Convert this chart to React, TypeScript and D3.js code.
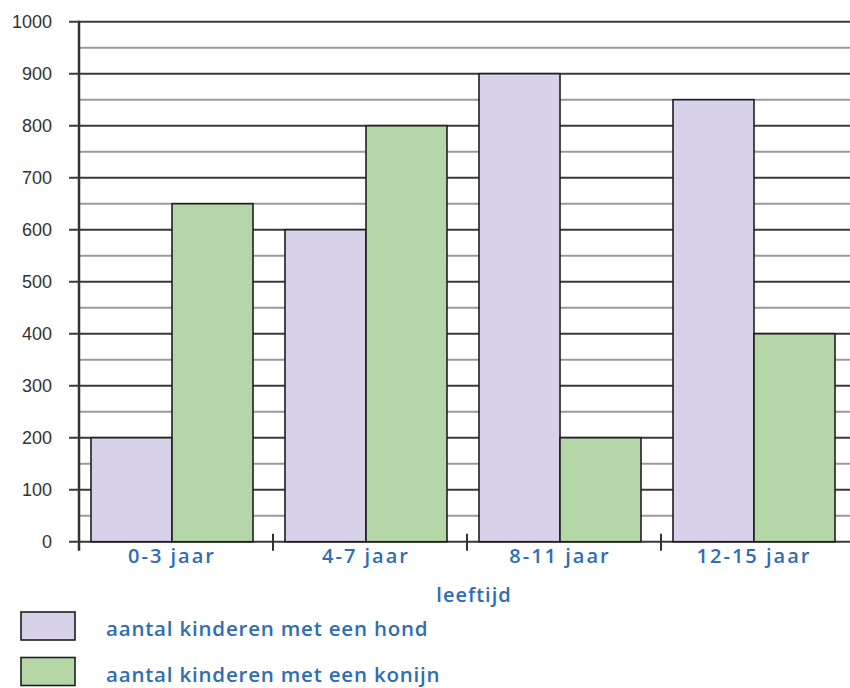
import React from "react";
import * as d3 from "d3";

const categories = ["0-3 jaar", "4-7 jaar", "8-11 jaar", "12-15 jaar"];
const seriesNames = ["aantal kinderen met een hond", "aantal kinderen met een konijn"];
const hond = [200, 600, 900, 850];
const konijn = [650, 800, 200, 400];
const yTicks = [0, 100, 200, 300, 400, 500, 600, 700, 800, 900, 1000];
const minorTicks = [50, 150, 250, 350, 450, 550, 650, 750, 850, 950];
const colors = ["#d7d1e9", "#b5d7a7"];
const xTitle = "leeftijd";

const W = 850;
const H = 688;
const left = 79;
const right = 855;
const top = 21.7;
const bottom = 541.7;
const blue = "#2f6db4";

export default function App() {
  const y = d3.scaleLinear().domain([0, 1000]).range([bottom, top]);
  const x0 = d3.scaleBand<string>().domain(categories).range([left, right]).padding(0);
  const x1 = d3
    .scaleBand<string>()
    .domain(seriesNames)
    .range([12, 12 + 162])
    .padding(0);
  const values = [hond, konijn];

  return (
    <svg
      width={W}
      height={H}
      style={{ position: "absolute", left: 0, top: 0, background: "#fff" }}
    >
      <rect x={0} y={0} width={W} height={H} fill="#fff" />
      {/* minor grid */}
      {minorTicks.map((t) => (
        <line key={"m" + t} x1={left} x2={W} y1={y(t)} y2={y(t)} stroke="#9a9a9a" strokeWidth={2} />
      ))}
      {/* major grid */}
      {yTicks.map((t) => (
        <line key={"g" + t} x1={left - 10} x2={W} y1={y(t)} y2={y(t)} stroke="#3a3a3a" strokeWidth={2} />
      ))}
      {/* bars */}
      {categories.map((c, i) => (
        <g key={c} transform={`translate(${x0(c)},0)`}>
          {seriesNames.map((s, j) => (
            <rect
              key={s}
              x={x1(s)}
              y={y(values[j][i])}
              width={x1.bandwidth()}
              height={y(0) - y(values[j][i])}
              fill={colors[j]}
              stroke="#1e1e1e"
              strokeWidth={1.6}
            />
          ))}
        </g>
      ))}
      {/* y axis */}
      <line x1={left} x2={left} y1={top - 1} y2={bottom + 9} stroke="#333" strokeWidth={2.5} />
      {/* x ticks */}
      {categories.slice(1).map((c) => (
        <line key={"t" + c} x1={x0(c)} x2={x0(c)} y1={bottom - 8} y2={bottom + 9} stroke="#333" strokeWidth={2} />
      ))}
      {/* y labels */}
      {yTicks.map((t) => (
        <text
          key={"l" + t}
          x={52}
          y={y(t)}
          dy="0.36em"
          textAnchor="end"
          fontFamily="'Liberation Sans', Arial, sans-serif"
          fontSize={18}
          fill="#333"
        >
          {t}
        </text>
      ))}
      {/* x labels */}
      {categories.map((c) => (
        <text
          key={"x" + c}
          x={(x0(c) as number) + 12 + 81}
          y={563}
          textAnchor="middle"
          fontFamily="'Open Sans', sans-serif"
          fontWeight={600}
          fontSize={20}
          letterSpacing={2}
          fill={blue}
        >
          {c}
        </text>
      ))}
      <text
        x={474}
        y={602}
        textAnchor="middle"
        fontFamily="'Open Sans', sans-serif"
        fontWeight={600}
        fontSize={20}
        letterSpacing={1}
        fill={blue}
      >
        {xTitle}
      </text>
      {/* legend */}
      {seriesNames.map((s, j) => (
        <g key={"lg" + s} transform={`translate(0,${612 + j * 45.5})`}>
          <rect x={21} y={0} width={54} height={28} fill={colors[j]} stroke="#1e1e1e" strokeWidth={1.6} />
          <text
            x={106}
            y={24}
            fontFamily="'Open Sans', sans-serif"
            fontWeight={600}
            fontSize={20.5}
            letterSpacing={0.8}
            fill={blue}
          >
            {s}
          </text>
        </g>
      ))}
    </svg>
  );
}
